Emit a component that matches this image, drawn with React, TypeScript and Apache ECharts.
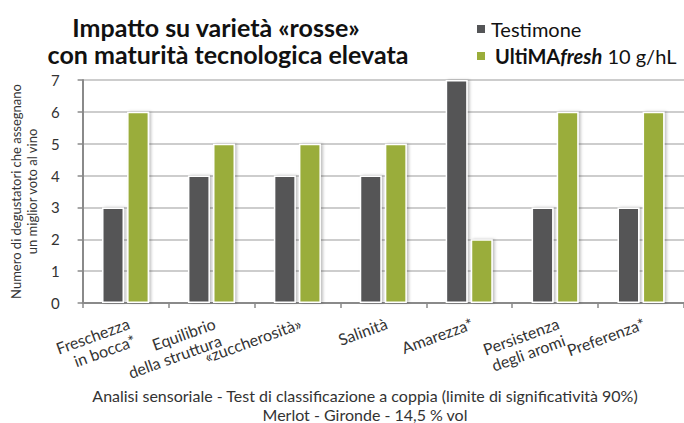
import React, { useEffect, useRef } from "react";
import * as echarts from "echarts";

const categories = [
  "Freschezza\nin bocca*",
  "Equilibrio\ndella struttura",
  "«zuccherosità»",
  "Salinità",
  "Amarezza*",
  "Persistenza\ndegli aromi",
  "Preferenza*",
];
const testimone = [3, 4, 4, 4, 7, 3, 3];
const ultimaFresh = [6, 5, 5, 5, 2, 6, 6];
const yTicks = [0, 1, 2, 3, 4, 5, 6, 7];
const seriesNames = ["Testimone", "UltiMAfresh 10 g/hL"];
const titleLines = ["Impatto su varietà «rosse»", "con maturità tecnologica elevata"];
const captionLines = [
  "Analisi sensoriale - Test di classificazione a coppia (limite di significatività 90%)",
  "Merlot - Gironde - 14,5 % vol",
];
const yAxisName = "Numero di degustatori che assegnano\nun miglior voto al vino";

const FONT = "Lato, 'Open Sans', sans-serif";
const DARK = "#545557";
const GREEN = "#9aad3a";

export default function App() {
  const ref = useRef<HTMLDivElement>(null);
  useEffect(() => {
    document.body.style.margin = "0";
    const chart = echarts.init(ref.current!, null, { renderer: "svg" });
    const barStyle = (color: string) => ({
      color,
      borderColor: "#ffffff",
      borderWidth: 1.5,
      shadowColor: "rgba(0,0,0,0.25)",
      shadowBlur: 3,
      shadowOffsetX: 2,
      shadowOffsetY: 0,
    });
    const xData = categories.map((c) => ({
      value: c,
      textStyle: { verticalAlign: "top" },
    }));
    chart.setOption({
      animation: false,
      textStyle: { fontFamily: FONT },
      grid: { left: 72, top: 80, bottom: 120, right: -8 },
      legend: {
        orient: "vertical",
        left: 470,
        top: 14,
        icon: "rect",
        itemWidth: 10,
        itemHeight: 10,
        itemGap: 7,
        selectedMode: false,
        formatter: (name: string) =>
          name === seriesNames[1]
            ? "{b|UltiMA}{bi|fresh}{n| 10 g/hL}"
            : "{n|" + name + "}",
        textStyle: {
          fontFamily: FONT,
          fontSize: 20,
          color: "#111",
          rich: {
            n: { fontFamily: FONT, fontSize: 20, color: "#111", lineHeight: 22 },
            b: { fontFamily: FONT, fontSize: 20, fontWeight: "bold", color: "#111", lineHeight: 22, padding: [0, 0, 0, 4] },
            bi: { fontFamily: FONT, fontSize: 20, fontWeight: "bold", fontStyle: "italic", color: "#111", lineHeight: 22 },
          },
        },
        data: seriesNames,
      },
      xAxis: {
        type: "category",
        data: xData,
        axisLine: { lineStyle: { color: "#8a8a8a", width: 2 } },
        axisTick: { show: true, length: 5, lineStyle: { color: "#8a8a8a", width: 1.5 } },
        axisLabel: {
          interval: 0,
          rotate: 20,
          margin: 11,
          fontFamily: FONT,
          fontSize: 16,
          lineHeight: 18,
          color: "#333",
        },
      },
      yAxis: {
        type: "value",
        min: yTicks[0],
        max: yTicks[yTicks.length - 1],
        interval: 1,
        name: yAxisName,
        nameLocation: "middle",
        nameGap: 40,
        nameTextStyle: { fontFamily: FONT, fontSize: 13, color: "#333", lineHeight: 16 },
        axisLine: { show: true, lineStyle: { color: "#8a8a8a", width: 2 } },
        axisTick: { show: true, length: 5, lineStyle: { color: "#8a8a8a", width: 1.5 } },
        axisLabel: { margin: 23, fontFamily: FONT, fontSize: 15, color: "#333" },
        splitLine: { lineStyle: { color: "#bdbdbd", width: 1.5 } },
      },
      series: [
        {
          name: seriesNames[0],
          type: "bar",
          data: testimone,
          barWidth: 22,
          barGap: "14%",
          itemStyle: barStyle(DARK),
        },
        {
          name: seriesNames[1],
          type: "bar",
          data: ultimaFresh,
          barWidth: 22,
          barGap: "14%",
          itemStyle: barStyle(GREEN),
        },
      ],
      graphic: [
        {
          type: "text",
          x: 216,
          y: 27,
          style: { text: titleLines[0], font: `bold 25px ${FONT}`, fill: "#111", align: "center", verticalAlign: "middle" },
        },
        {
          type: "text",
          x: 228,
          y: 54,
          style: { text: titleLines[1], font: `bold 25px ${FONT}`, fill: "#111", align: "center", verticalAlign: "middle" },
        },
        {
          type: "text",
          x: 365,
          y: 395,
          style: { text: captionLines[0], font: `16px ${FONT}`, fill: "#333", align: "center", verticalAlign: "middle" },
        },
        {
          type: "text",
          x: 365,
          y: 414,
          style: { text: captionLines[1], font: `16px ${FONT}`, fill: "#333", align: "center", verticalAlign: "middle" },
        },
      ],
    });
    return () => chart.dispose();
  }, []);
  return <div ref={ref} style={{ width: 684, height: 423 }} />;
}
